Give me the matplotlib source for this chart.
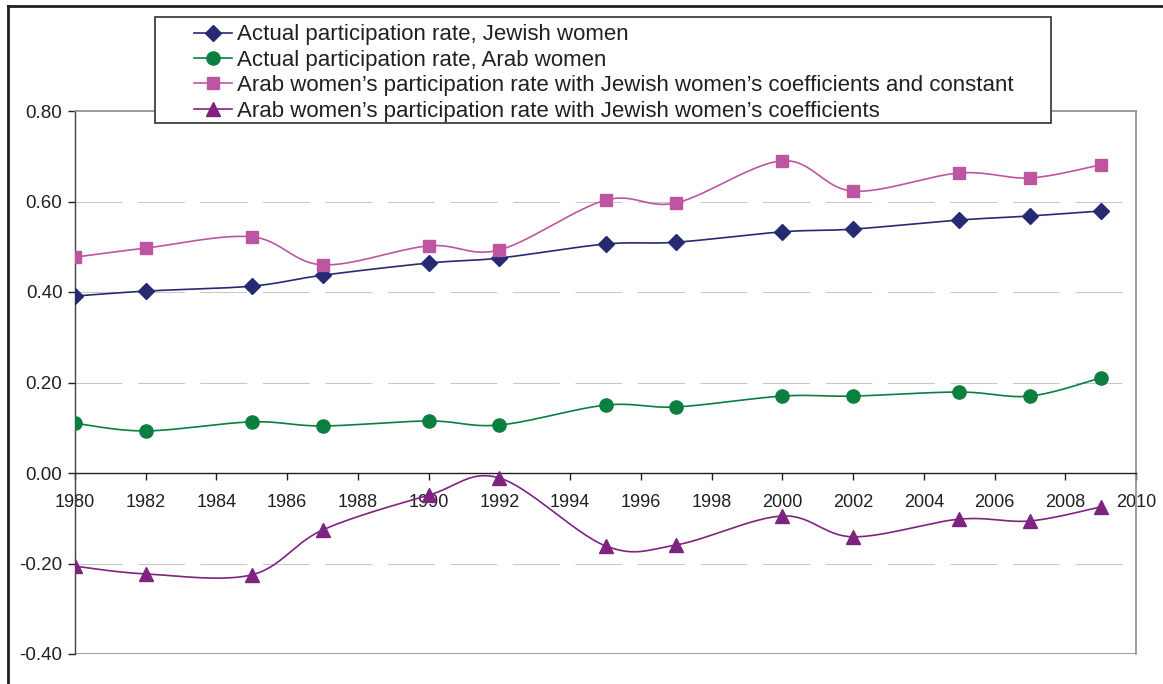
import numpy as np
import matplotlib.pyplot as plt
from matplotlib.patches import Rectangle
from matplotlib.lines import Line2D

plt.rcParams["font.family"] = ["Liberation Sans", "DejaVu Sans"]

years = [1980, 1982, 1985, 1987, 1990, 1992, 1995, 1997, 2000, 2002, 2005, 2007, 2009]
jewish = [0.391, 0.402, 0.413, 0.437, 0.464, 0.475, 0.506, 0.510, 0.533, 0.539, 0.559, 0.568, 0.579]
arab = [0.110, 0.093, 0.113, 0.104, 0.115, 0.106, 0.150, 0.146, 0.170, 0.170, 0.179, 0.170, 0.210]
arab_coef_const = [0.477, 0.497, 0.522, 0.460, 0.502, 0.493, 0.603, 0.597, 0.690, 0.623, 0.663, 0.652, 0.681]
arab_coef = [-0.206, -0.223, -0.225, -0.126, -0.049, -0.011, -0.161, -0.159, -0.095, -0.141, -0.102, -0.106, -0.075]

labels = [
    "Actual participation rate, Jewish women",
    "Actual participation rate, Arab women",
    "Arab women’s participation rate with Jewish women’s coefficients and constant",
    "Arab women’s participation rate with Jewish women’s coefficients",
]


# Excel-style smoothed line (Catmull-Rom through the points, in screen-ish scale)
def smooth(xs, ys, sx=35.4, sy=452.5, n=30):
    p = np.column_stack([np.array(xs) * sx, np.array(ys) * sy])
    p = np.vstack([p[0], p, p[-1]])
    out = []
    for i in range(1, len(p) - 2):
        p0, p1, p2, p3 = p[i - 1], p[i], p[i + 1], p[i + 2]
        c1 = p1 + (p2 - p0) / 6
        c2 = p2 - (p3 - p1) / 6
        t = np.linspace(0, 1, n)[:, None]
        seg = (1 - t) ** 3 * p1 + 3 * (1 - t) ** 2 * t * c1 + 3 * (1 - t) * t ** 2 * c2 + t ** 3 * p2
        out.append(seg if i == 1 else seg[1:])
    out = np.vstack(out)
    return out[:, 0] / sx, out[:, 1] / sy


fig = plt.figure(figsize=(11.63, 6.84), dpi=100)
ax = fig.add_axes([75 / 1163, 1 - 654 / 684, (1136 - 75) / 1163, (654 - 111) / 684])

series = [
    (jewish, "#262a73", "D", 8),
    (arab, "#0a7f3f", "o", 9.5),
    (arab_coef_const, "#be55a0", "s", 9),
    (arab_coef, "#7e2380", "^", 10),
]

handles = []
for (vals, col, mk, ms), lab in zip(series, labels):
    sx, sy = smooth(years, vals)
    ax.plot(sx, sy, color=col, lw=1.2, zorder=3)
    ax.plot(years, vals, linestyle="none", marker=mk, markersize=ms, color=col, zorder=4)
    handles.append(Line2D([], [], color=col, lw=1.2, marker=mk, markersize=ms, label=lab))

ax.set_xlim(1980, 2010)
ax.set_ylim(-0.40, 0.80)
ax.set_xticks(range(1980, 2011, 2))
ax.set_yticks(np.arange(-0.4, 0.81, 0.2))
ax.set_yticklabels([f"{v:.2f}" for v in np.arange(-0.4, 0.81, 0.2)])

for g in [-0.2, 0.2, 0.4, 0.6]:
    ax.axhline(g, color="#c8c8c8", lw=0.75, linestyle=(0, (45, 15)), zorder=1)
ax.axhline(-0.4, color="#8c8c8c", lw=1.2, zorder=2)

ax.spines["bottom"].set_position(("data", 0))
ax.spines["bottom"].set_color("#202020")
ax.spines["bottom"].set_linewidth(1.0)
ax.spines["left"].set_color("#404040")
ax.spines["left"].set_linewidth(1.0)
ax.spines["top"].set_color("#8c8c8c")
ax.spines["right"].set_color("#8c8c8c")
ax.spines["top"].set_linewidth(1.2)
ax.spines["right"].set_linewidth(1.2)

ax.tick_params(axis="x", direction="out", length=5, width=1, pad=10, labelsize=13, colors="#202020")
ax.tick_params(axis="y", direction="out", length=5, width=1, pad=4, labelsize=13.5, colors="#202020")

# legend box
fig.patches.append(Rectangle((155 / 1163, 1 - 123 / 684), (1051 - 155) / 1163, (123 - 17) / 684,
                             transform=fig.transFigure, facecolor="white", edgecolor="#303030",
                             lw=1.2, zorder=10))
leg = fig.legend(handles=handles, loc="upper left", bbox_to_anchor=(181 / 1163, 1 - 11 / 684),
                 bbox_transform=fig.transFigure, frameon=False, fontsize=16,
                 handlelength=1.7, handletextpad=0.22, labelspacing=0.2, borderpad=0.1)
leg.set_zorder(11)
for t in leg.get_texts():
    t.set_color("#202020")

# outer frame of the figure
fig.add_artist(Line2D([8 / 1163, 8 / 1163], [0, 1 - 6 / 684], transform=fig.transFigure, color="#202020", lw=2))
fig.add_artist(Line2D([8 / 1163, 1], [1 - 6 / 684, 1 - 6 / 684], transform=fig.transFigure, color="#202020", lw=2))

fig.savefig("out.png", dpi=100)
